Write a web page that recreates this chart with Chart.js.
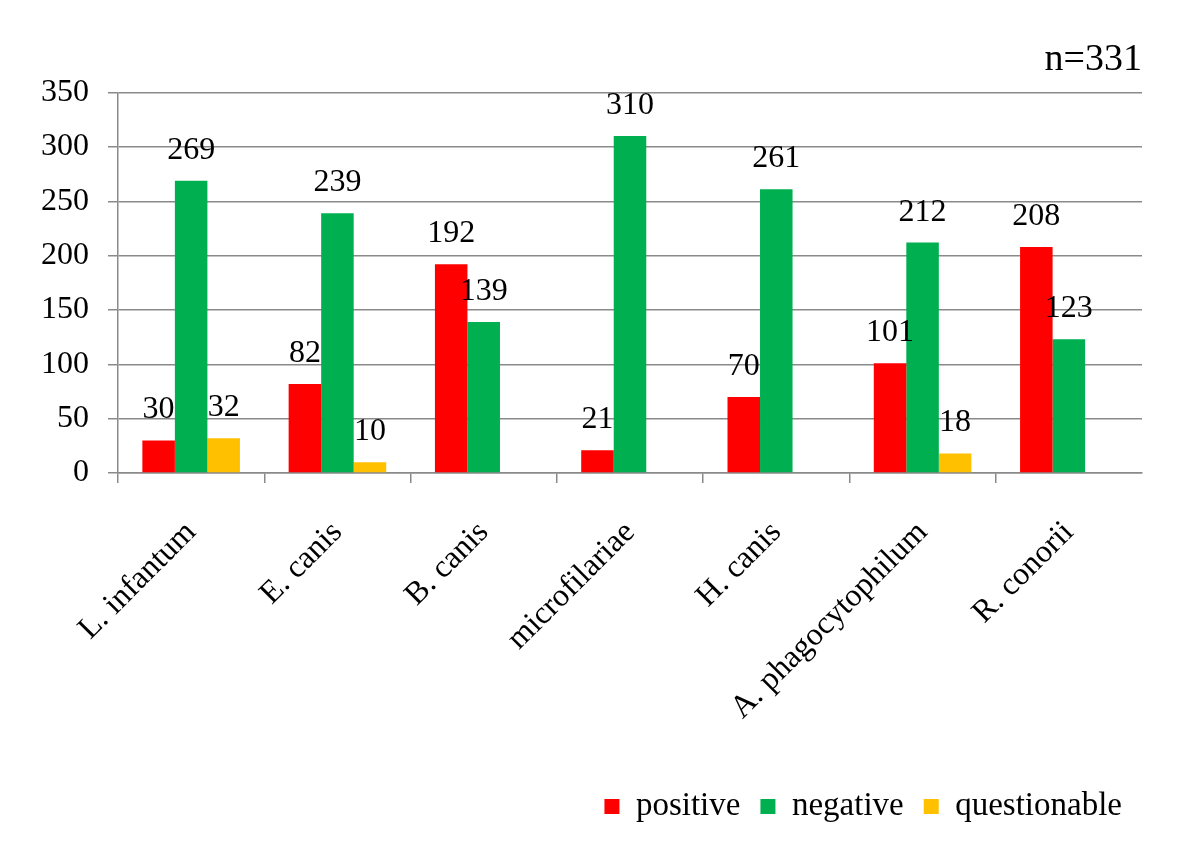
<!DOCTYPE html>
<html>
<head>
<meta charset="utf-8">
<title>Test results</title>
<script src="https://cdn.jsdelivr.net/npm/chart.js@4/dist/chart.umd.min.js"></script>
<style>
  html, body { margin: 0; padding: 0; background: #fff; }
  #wrap { width: 1200px; height: 858px; }
</style>
</head>
<body>
<div id="wrap"><canvas id="results"></canvas></div>
<script>
const categories = ['L. infantum', 'E. canis', 'B. canis', 'microfilariae', 'H. canis', 'A. phagocytophilum', 'R. conorii'];
const positive = [30, 82, 192, 21, 70, 101, 208];
const negative = [269, 239, 139, 310, 261, 212, 123];
const questionable = [32, 10, null, null, null, 18, null];
const yTicks = [0, 50, 100, 150, 200, 250, 300, 350];

const serif = '"Liberation Serif", "Times New Roman", serif';

// values written above each bar
const valueLabels = {
    id: 'valueLabels',
    afterDatasetsDraw(chart) {
        const ctx = chart.ctx;
        ctx.save();
        ctx.font = '32px ' + serif;
        ctx.fillStyle = '#000';
        ctx.textAlign = 'center';
        ctx.textBaseline = 'alphabetic';
        chart.data.datasets.forEach(function(ds, i) {
            chart.getDatasetMeta(i).data.forEach(function(bar, j) {
                const v = ds.data[j];
                if (v === null || v === undefined) return;
                ctx.fillText(String(v), bar.x, bar.y - 22);
            });
        });
        ctx.restore();
    }
};

const ctx = document.getElementById('results').getContext('2d');
const chart = new Chart(ctx, {
    type: 'bar',
    data: {
        labels: categories,
        datasets: [
            { label: 'positive', data: positive, backgroundColor: '#FF0000', borderWidth: 0 },
            { label: 'negative', data: negative, backgroundColor: '#00B050', borderWidth: 0 },
            { label: 'questionable', data: questionable, backgroundColor: '#FFC000', borderWidth: 0 }
        ]
    },
    options: {
        responsive: true,
        maintainAspectRatio: false,
        animation: false,
        barPercentage: 1,
        categoryPercentage: 0.667,
        layout: { padding: { left: 0, right: 58, top: 0, bottom: 25 } },
        scales: {
            x: {
                grid: {
                    display: true,
                    drawOnChartArea: false,
                    drawTicks: true,
                    tickLength: 10,
                    offset: true,
                    // the extra line at the right end has no tick behind it, leave it out
                    color: function(c) { return c.tick ? '#8a8a8a' : 'rgba(0,0,0,0)'; },
                    lineWidth: 1.5
                },
                border: { display: true, color: '#8a8a8a', width: 1.5 },
                ticks: {
                    color: '#000',
                    font: { family: serif, size: 32 },
                    minRotation: 45,
                    maxRotation: 45,
                    autoSkip: false,
                    padding: 31
                },
                afterFit: function(scale) { scale.height = 297; }
            },
            y: {
                min: 0,
                max: 350,
                afterBuildTicks: function(scale) {
                    scale.ticks = yTicks.map(function(v) { return { value: v }; });
                },
                grid: { color: '#8a8a8a', lineWidth: 1.5, tickLength: 10 },
                border: { display: true, color: '#8a8a8a', width: 1.5 },
                ticks: {
                    color: '#000',
                    font: { family: serif, size: 32 },
                    padding: 19
                },
                afterFit: function(scale) { scale.width = 118; }
            }
        },
        plugins: {
            title: {
                display: true,
                text: 'n=331',
                align: 'end',
                color: '#000',
                font: { family: serif, size: 38, weight: 'normal' },
                padding: { top: 37, bottom: 10 }
            },
            legend: {
                position: 'bottom',
                align: 'end',
                labels: {
                    color: '#000',
                    font: { family: serif, size: 33 },
                    boxWidth: 15,
                    boxHeight: 15,
                    padding: 20
                }
            },
            tooltip: { enabled: false }
        }
    },
    plugins: [valueLabels]
});
</script>
</body>
</html>
